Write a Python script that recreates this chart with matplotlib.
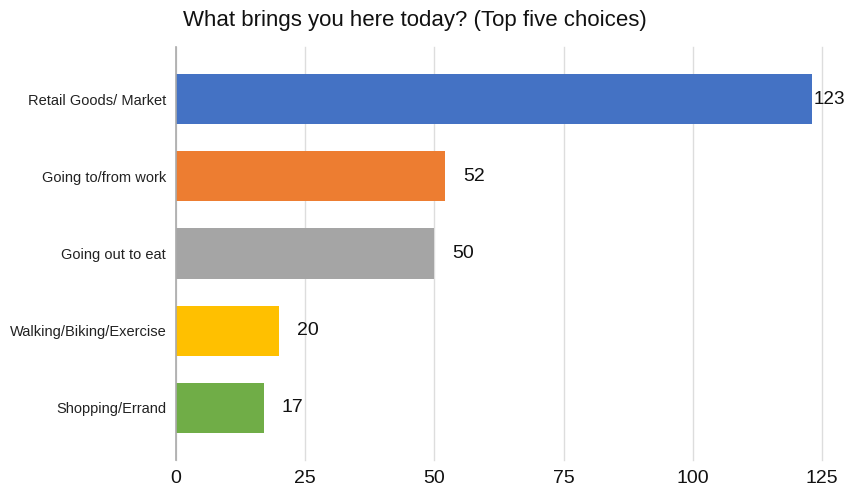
import matplotlib.pyplot as plt

plt.rcParams["font.family"] = ["Liberation Sans", "DejaVu Sans"]

categories = [
    "Retail Goods/ Market",
    "Going to/from work",
    "Going out to eat",
    "Walking/Biking/Exercise",
    "Shopping/Errand",
]
counts = [123, 52, 50, 20, 17]
colors = ["#4472C4", "#ED7D31", "#A5A5A5", "#FFC000", "#70AD47"]
xticks = [0, 25, 50, 75, 100, 125]

fig = plt.figure(figsize=(8.46, 4.90), dpi=100)
ax = fig.add_axes([0.208, 0.061, 0.7636, 0.843])

ypos = list(range(len(categories)))
ax.barh(ypos, counts, height=0.65, color=colors, zorder=3)
ax.set_ylim(len(categories) - 0.325, -0.675)
ax.set_xlim(0, 125)
ax.set_yticks(ypos)
ax.set_yticklabels(categories, fontsize=10.5, color="#222222")
ax.set_xticks(xticks)
ax.set_xticklabels([str(t) for t in xticks], fontsize=14, color="#111111")
ax.tick_params(length=0)
ax.tick_params(axis="y", pad=7)
ax.tick_params(axis="x", pad=7)

ax.grid(axis="x", color="#DDDDDD", lw=1, zorder=0)
for gl in ax.get_xgridlines():
    gl.set_clip_on(False)
for s in ("top", "right", "bottom"):
    ax.spines[s].set_visible(False)
ax.spines["left"].set_color("#AAAAAA")
ax.spines["left"].set_linewidth(1.2)
ax.spines["left"].set_zorder(4)

for y, v in zip(ypos, counts):
    if v > 115:
        # not enough room on the right, tuck it in against the bar
        ax.text(v + 0.3, y, str(v), va="center", ha="left", fontsize=13.6, color="#111111", clip_on=False)
    else:
        ax.text(v + 3.5, y, str(v), va="center", ha="left", fontsize=14, color="#111111", clip_on=False)

fig.text(0.216, 0.958, "What brings you here today? (Top five choices)", fontsize=16, va="center", ha="left", color="#111111")

fig.savefig("out.png", dpi=100)
